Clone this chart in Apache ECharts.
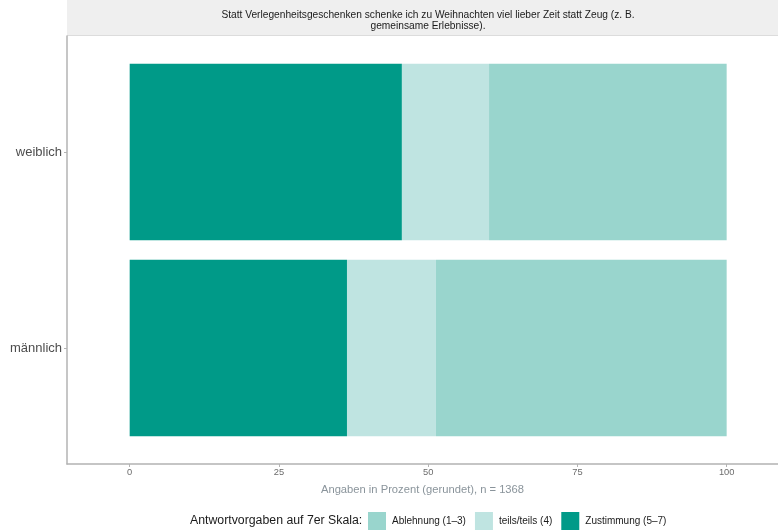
<!DOCTYPE html>
<html><head><meta charset="utf-8">
<script src="https://cdn.jsdelivr.net/npm/echarts@6/dist/echarts.min.js"></script>
<style>html,body{margin:0;padding:0;background:#fff}#c{width:778px;height:530px}</style>
</head><body><div id="c"></div>
<script>
const categories = ['weiblich', 'männlich'];
const zustimmung = [45.6, 36.4];
const teils = [14.6, 14.9];
const ablehnung = [39.8, 48.7];
const xTicks = [0, 25, 50, 75, 100];
const names = ['Ablehnung (1–3)', 'teils/teils (4)', 'Zustimmung (5–7)'];
const stripText = 'Statt Verlegenheitsgeschenken schenke ich zu Weihnachten viel lieber Zeit statt Zeug (z. B.\ngemeinsame Erlebnisse).';
const xTitle = 'Angaben in Prozent (gerundet), n = 1368';
const legendTitle = 'Antwortvorgaben auf 7er Skala:';

const colors = {};
colors[names[0]] = '#99D5CD';
colors[names[1]] = '#BFE4E1';
colors[names[2]] = '#009A88';

const FONT = 'Liberation Sans, Arial, Helvetica, sans-serif';
const chart = echarts.init(document.getElementById('c'), null, {renderer: 'canvas'});

function bar(name, data) {
  return {
    name: name, type: 'bar', stack: 'a', data: data,
    xAxisIndex: 1, yAxisIndex: 1,
    barWidth: '90%',
    itemStyle: {color: colors[name]},
    emphasis: {disabled: true},
    silent: true
  };
}

chart.setOption({
  animation: false,
  textStyle: {fontFamily: FONT},
  graphic: [
    {type: 'rect', shape: {x: 67, y: 0, width: 722, height: 35}, style: {fill: '#EFEFEF'}, z: 0},
    {type: 'rect', shape: {x: 67, y: 35, width: 722, height: 1}, style: {fill: '#DCDCDC'}, z: 0},
    {type: 'text', x: 428, y: 10, style: {text: stripText, fill: '#1a1a1a', font: '10.2px ' + FONT, textAlign: 'center', lineHeight: 11}, z: 1}
  ],
  title: {
    text: legendTitle, left: 185, top: 510,
    textStyle: {fontSize: 12.3, fontWeight: 'normal', color: '#1a1a1a', fontFamily: FONT}
  },
  legend: {
    data: names, left: 363, top: 507, itemWidth: 18, itemHeight: 18, itemGap: 9,
    icon: 'rect', selectedMode: false,
    textStyle: {fontSize: 10, color: '#1a1a1a', fontFamily: FONT, padding: [0, 0, 0, 1]}
  },
  grid: [
    {left: 67, right: 0, top: 36, bottom: 66},
    {left: 67, right: 0, top: 54, bottom: 84}
  ],
  xAxis: [
    {
      type: 'value', gridIndex: 0, min: -10.5, max: 108.6,
      axisLine: {show: true, lineStyle: {color: '#B3B3B3', width: 1.5}},
      axisTick: {show: true, customValues: xTicks, length: 3, lineStyle: {color: '#B3B3B3'}},
      axisLabel: {customValues: xTicks, fontSize: 9.3, color: '#6b6b6b', margin: 4, fontFamily: FONT},
      splitLine: {show: false},
      name: xTitle, nameLocation: 'middle', nameGap: 20,
      nameTextStyle: {fontSize: 11.2, color: '#8A949B', fontFamily: FONT, padding: [0, 0, 0, 0]}
    },
    {
      type: 'value', gridIndex: 1, min: -10.5, max: 108.6, show: false
    }
  ],
  yAxis: [
    {
      type: 'value', gridIndex: 0, min: 0, max: 1,
      axisLine: {show: true, onZero: false, lineStyle: {color: '#B3B3B3', width: 1.5}},
      axisTick: {show: false}, axisLabel: {show: false}, splitLine: {show: false}
    },
    {
      type: 'category', gridIndex: 1, data: categories, inverse: true,
      axisLine: {show: false, onZero: false},
      axisTick: {show: true, alignWithLabel: true, length: 3, lineStyle: {color: '#B3B3B3'}},
      axisLabel: {fontSize: 13, color: '#4d4d4d', margin: 5, fontFamily: FONT}
    }
  ],
  series: [
    bar(names[2], zustimmung),
    bar(names[1], teils),
    bar(names[0], ablehnung)
  ]
});
</script></body></html>
